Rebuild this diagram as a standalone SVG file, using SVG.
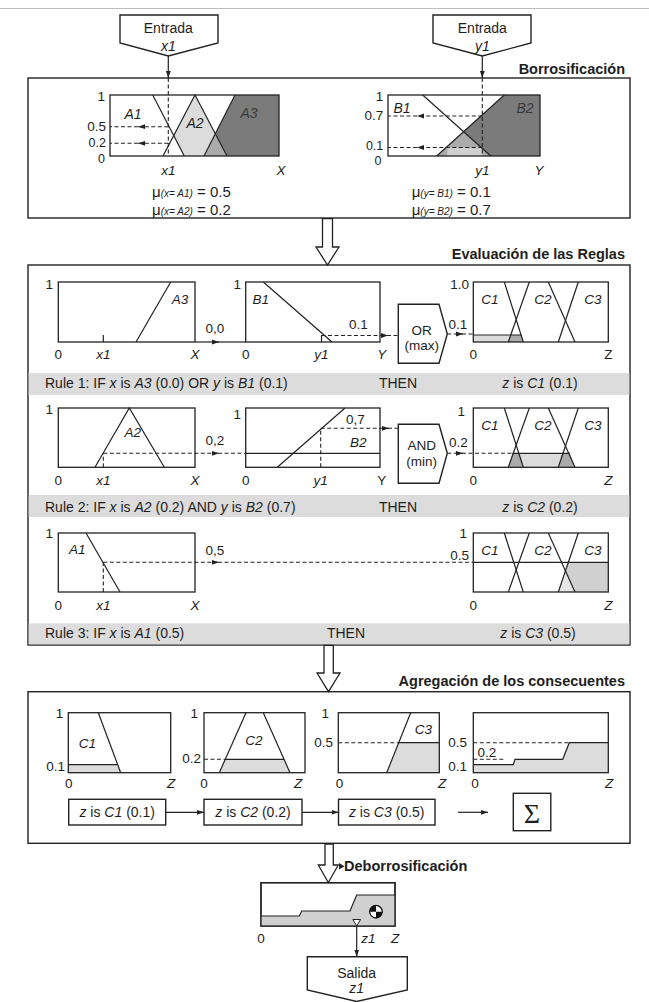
<svg xmlns="http://www.w3.org/2000/svg" width="649" height="1002" viewBox="0 0 649 1002">
<defs>
<marker id="ah" markerUnits="userSpaceOnUse" markerWidth="8" markerHeight="6" refX="7" refY="3" orient="auto"><path d="M0,0.6 L7,3 L0,5.4 z" fill="#222"/></marker>
<style>
text{font-family:"Liberation Sans",Arial,sans-serif;fill:#1e1e1e;font-size:13.5px}
.i{font-style:italic}
.m{text-anchor:middle}
.e{text-anchor:end}
.r{font-size:14px}
.s{font-size:12.5px}
.hd{font-weight:bold;font-size:14.5px;text-anchor:end}
.box{fill:#fff;stroke:#222;stroke-width:1.4}
.fr{fill:none;stroke:#222;stroke-width:1.3}
.ln{fill:none;stroke:#222;stroke-width:1.2}
.d{fill:none;stroke:#222;stroke-width:1.1;stroke-dasharray:4 2.5}
.ar{marker-end:url(#ah)}
.band{fill:#dcdcdc}
.lg{fill:#dcdcdc}.mg{fill:#ababab}.dg{fill:#7b7b7b}.sg{fill:#d0d0d0}.xg{fill:#e6e6e6}
.hol{fill:#fff;stroke:#222;stroke-width:1.3}
</style>
</defs>
<rect width="649" height="1002" fill="#fff"/>
<line x1="0" y1="8.5" x2="649" y2="8.5" stroke="#bdbdbd" stroke-width="1.2"/>

<g id="entrada-x1">
<polygon class="box" points="120,15 218,15 218,43 168.3,56 120,43"/>
<text class="m" x="168.3" y="33" style="font-size:14px">Entrada</text>
<text class="m i" x="168.3" y="51" style="font-size:14px">x1</text>
</g>
<g id="entrada-y1">
<polygon class="box" points="433,15 531,15 531,43 482.3,56 433,43"/>
<text class="m" x="482.3" y="33" style="font-size:14px">Entrada</text>
<text class="m i" x="482.3" y="51" style="font-size:14px">y1</text>
</g>

<g id="borrosificacion">
<text class="hd" x="625" y="74">Borrosificación</text>
<rect class="box" x="28" y="78" width="602" height="140"/>
<!-- left plot -->
<polygon class="lg" points="173.7,135.6 195,95 215.3,133.7 204,156 184.3,156"/>
<polygon class="mg" points="204,156 215.3,133.7 227,156"/>
<polygon class="dg" points="215.3,133.7 235,95 279,95 279,156 227,156"/>
<line class="ln" x1="152.7" y1="95" x2="184.3" y2="156"/>
<polyline class="ln" points="163,156 195,95 227,156"/>
<line class="ln" x1="204" y1="156" x2="235" y2="95"/>
<rect class="fr" x="110" y="95" width="169" height="61"/>
<text class="i m" x="133" y="119" style="font-size:14px">A1</text>
<text class="i m" x="195" y="128" style="font-size:14px">A2</text>
<text class="i m" x="249" y="118" style="font-size:14px;fill:#3a3a3a">A3</text>
<text class="e" x="105" y="101">1</text>
<text class="e" x="106" y="131">0.5</text>
<text class="e s" x="106" y="147">0.2</text>
<text class="e s" x="105" y="163">0</text>
<text class="i m" x="168.3" y="175">x1</text>
<text class="i m" x="281" y="175">X</text>
<line class="d" x1="168.3" y1="78" x2="168.3" y2="156"/>
<line class="d ar" x1="168.3" y1="126.7" x2="138" y2="126.7"/>
<line class="d" x1="138" y1="126.7" x2="110" y2="126.7"/>
<line class="d ar" x1="168.3" y1="143.3" x2="138" y2="143.3"/>
<line class="d" x1="138" y1="143.3" x2="110" y2="143.3"/>
<text x="152" y="196.5" style="font-size:15px">μ<tspan class="i" style="font-size:10px">(x= A1)</tspan> = 0.5</text>
<text x="152" y="215" style="font-size:15px">μ<tspan class="i" style="font-size:10px">(x= A2)</tspan> = 0.2</text>
<!-- right plot -->
<polygon class="dg" points="436.7,156 504.3,95 540,95 540,156"/>
<polygon class="mg" points="436.7,156 463.6,131.7 490.7,156"/>
<rect class="sg" x="447.3" y="147.5" width="35" height="8.5"/>
<line class="ln" x1="422.7" y1="95" x2="490.7" y2="156"/>
<line class="ln" x1="436.7" y1="156" x2="504.3" y2="95"/>
<rect class="fr" x="388" y="95" width="152" height="61"/>
<text class="i m" x="402" y="113" style="font-size:14px">B1</text>
<text class="i m" x="525" y="113" style="font-size:14px;fill:#3a3a3a">B2</text>
<text class="e" x="383.3" y="101">1</text>
<text class="e" x="383.3" y="120">0.7</text>
<text class="e s" x="383.3" y="149.5">0.1</text>
<text class="m s" x="378" y="164.5">0</text>
<text class="i m" x="482.3" y="175">y1</text>
<text class="i m" x="539" y="175">Y</text>
<line class="d" x1="482.3" y1="78" x2="482.3" y2="156"/>
<line class="d ar" x1="482.3" y1="116" x2="417" y2="116"/>
<line class="d" x1="417" y1="116" x2="388" y2="116"/>
<line class="d ar" x1="482.3" y1="147.5" x2="417" y2="147.5"/>
<line class="d" x1="417" y1="147.5" x2="388" y2="147.5"/>
<text x="411.7" y="196.5" style="font-size:15px">μ<tspan class="i" style="font-size:10px">(y= B1)</tspan> = 0.1</text>
<text x="411.7" y="215" style="font-size:15px">μ<tspan class="i" style="font-size:10px">(y= B2)</tspan> = 0.7</text>
</g>

<g id="evaluacion">
<text class="hd" x="625" y="259">Evaluación de las Reglas</text>
<rect class="box" x="28" y="265" width="602" height="380"/>
<!-- Rule 1 -->
<line class="ln" x1="136" y1="342" x2="170.7" y2="282"/>
<line class="ln" x1="103.3" y1="335" x2="103.3" y2="342"/>
<rect class="fr" x="58.3" y="282" width="136.7" height="60"/>
<text class="i m" x="180" y="304">A3</text>
<text class="e" x="53" y="289">1</text>
<text class="m" x="58.3" y="359">0</text>
<text class="i m" x="103.3" y="359">x1</text>
<text class="i m" x="195" y="359">X</text>
<text class="m" x="215" y="333">0,0</text>
<line class="ln" x1="263.3" y1="282" x2="332" y2="342"/>
<line class="ln" x1="321.5" y1="335" x2="321.5" y2="342"/>
<rect class="fr" x="245.7" y="282" width="134.3" height="60"/>
<text class="i m" x="260.8" y="304">B1</text>
<text class="e" x="241" y="289">1</text>
<text class="m" x="245.7" y="359">0</text>
<text class="i m" x="321.5" y="359">y1</text>
<text class="i m" x="381.7" y="359">Y</text>
<text class="m" x="358.3" y="328.5">0.1</text>
<g id="or-node">
<polygon class="box" points="398.3,304.3 439,304.3 447.3,334 439,363.3 398.3,363.3"/>
<text class="m" x="421.7" y="335">OR</text>
<text class="m" x="421.7" y="350">(max)</text>
</g>
<text class="m" x="458" y="329">0.1</text>
<rect class="lg" x="473.3" y="335" width="37" height="7"/>
<polygon class="mg" points="508.3,342 510.4,335 521.5,335 523.3,342"/>
<line class="ln" x1="473.3" y1="335" x2="521.5" y2="335"/>
<line class="ln" x1="504.3" y1="282" x2="523.3" y2="342"/>
<line class="ln" x1="508.3" y1="342" x2="529.3" y2="282"/>
<line class="ln" x1="548.3" y1="282" x2="575" y2="342"/>
<line class="ln" x1="558.3" y1="342" x2="578.3" y2="282"/>
<rect class="fr" x="473.3" y="282" width="135" height="60"/>
<text class="e" x="469" y="289">1.0</text>
<text class="i m" x="490" y="304">C1</text>
<text class="i m" x="543" y="304">C2</text>
<text class="i m" x="593" y="304">C3</text>
<text class="m" x="473.3" y="359">0</text>
<text class="m" x="608.3" y="359">Z</text>
<rect class="band" x="28.7" y="373" width="600.6" height="22"/>
<text class="r" x="45" y="388">Rule 1: IF <tspan class="i">x</tspan> is <tspan class="i">A3</tspan> (0.0) OR <tspan class="i">y</tspan> is <tspan class="i">B1</tspan> (0.1)</text>
<text class="r m" x="398" y="388">THEN</text>
<text class="r m" x="540" y="388"><tspan class="i">z</tspan> is <tspan class="i">C1</tspan> (0.1)</text>
<!-- Rule 2 -->
<polyline class="ln" points="95,467.3 129.3,408 164.3,467.3"/>
<rect class="fr" x="58.3" y="408" width="136.7" height="59.3"/>
<text class="i m" x="132.7" y="437">A2</text>
<text class="e" x="53" y="413.5">1</text>
<line class="d" x1="103.3" y1="467.3" x2="103.3" y2="453.3"/>
<text class="m" x="58.3" y="485">0</text>
<text class="i m" x="103.3" y="485">x1</text>
<text class="i m" x="195" y="485">X</text>
<text class="m" x="215" y="445">0,2</text>
<line class="ln" x1="277.3" y1="467.3" x2="345" y2="408"/>
<line class="ln" x1="245.7" y1="453.3" x2="380" y2="453.3"/>
<line class="d" x1="320.7" y1="467.3" x2="320.7" y2="428.3"/>
<rect class="fr" x="245.7" y="408" width="134.3" height="59.3"/>
<text class="i m" x="358.3" y="447">B2</text>
<text class="m" x="355.5" y="424">0,7</text>
<text class="e" x="241" y="418.5">1</text>
<text class="m" x="245.7" y="485">0</text>
<text class="i m" x="320.7" y="485">y1</text>
<text class="m" x="381.7" y="485">Y</text>
<g id="and-node">
<polygon class="box" points="398.3,424.3 439,424.3 447.3,453.3 439,483.3 398.3,483.3"/>
<text class="m" x="421.7" y="450">AND</text>
<text class="m" x="421.7" y="466">(min)</text>
</g>
<text class="m" x="458.3" y="447">0.2</text>
<polygon class="lg" points="508.3,467.3 512.5,453.3 569.7,453.3 575,467.3"/>
<polygon class="mg" points="508.3,467.3 512.5,453.3 519.6,453.3 523.3,467.3"/>
<polygon class="mg" points="558.3,467.3 562.3,453.3 569.7,453.3 575,467.3"/>
<line class="ln" x1="512.5" y1="453.3" x2="569.7" y2="453.3"/>
<line class="ln" x1="504.3" y1="408" x2="523.3" y2="467.3"/>
<line class="ln" x1="508.3" y1="467.3" x2="529.3" y2="408"/>
<line class="ln" x1="548.3" y1="408" x2="575" y2="467.3"/>
<line class="ln" x1="558.3" y1="467.3" x2="578.3" y2="408"/>
<rect class="fr" x="473.3" y="408" width="135" height="59.3"/>
<text class="e" x="465" y="415.7">1</text>
<text class="i m" x="490" y="430">C1</text>
<text class="i m" x="543" y="430">C2</text>
<text class="i m" x="593" y="430">C3</text>
<text class="m" x="473.3" y="485">0</text>
<text class="i m" x="608.3" y="485">Z</text>
<rect class="band" x="28.7" y="495" width="600.6" height="22"/>
<text class="r" x="45" y="512">Rule 2: IF <tspan class="i">x</tspan> is <tspan class="i">A2</tspan> (0.2) AND <tspan class="i">y</tspan> is <tspan class="i">B2</tspan> (0.7)</text>
<text class="r m" x="398" y="512">THEN</text>
<text class="r m" x="540" y="512"><tspan class="i">z</tspan> is <tspan class="i">C2</tspan> (0.2)</text>
<!-- Rule 3 -->
<line class="ln" x1="86" y1="533" x2="120" y2="592"/>
<line class="d" x1="103.3" y1="592" x2="103.3" y2="562.3"/>
<rect class="fr" x="58.3" y="533" width="136.7" height="59"/>
<text class="i m" x="77.3" y="554">A1</text>
<text class="e" x="53" y="538">1</text>
<text class="m" x="58.3" y="610">0</text>
<text class="i m" x="103.3" y="610">x1</text>
<text class="i m" x="195" y="610">X</text>
<text class="m" x="215" y="555">0,5</text>
<polygon class="xg" points="558.3,592 568.3,562.3 608.3,562.3 608.3,592"/>
<polygon class="sg" points="575,592 565.4,570.9 568.3,562.3 608.3,562.3 608.3,592"/>
<line class="ln" x1="473.3" y1="562.3" x2="608.3" y2="562.3"/>
<line class="ln" x1="504.3" y1="533" x2="523.3" y2="592"/>
<line class="ln" x1="508.3" y1="592" x2="529.3" y2="533"/>
<line class="ln" x1="548.3" y1="533" x2="575" y2="592"/>
<line class="ln" x1="558.3" y1="592" x2="578.3" y2="533"/>
<rect class="fr" x="473.3" y="533" width="135" height="59"/>
<text class="e" x="467" y="538">1</text>
<text class="e" x="469" y="560">0.5</text>
<text class="i m" x="490" y="555">C1</text>
<text class="i m" x="543" y="555">C2</text>
<text class="i m" x="593" y="555">C3</text>
<text class="m" x="473.3" y="610">0</text>
<text class="i m" x="608.3" y="610">Z</text>
<rect class="band" x="28.7" y="623.3" width="600.6" height="21"/>
<text class="r" x="45" y="638">Rule 3: IF <tspan class="i">x</tspan> is <tspan class="i">A1</tspan> (0.5)</text>
<text class="r m" x="346" y="638">THEN</text>
<text class="r m" x="538" y="638"><tspan class="i">z</tspan> is <tspan class="i">C3</tspan> (0.5)</text>
</g>

<g id="agregacion">
<text class="hd" x="625" y="686">Agregación de los consecuentes</text>
<rect class="box" x="28" y="691.7" width="602" height="151.6"/>
<!-- plot a -->
<polygon class="lg" points="68.3,764.7 117.7,764.7 120.7,772.7 68.3,772.7"/>
<line class="ln" x1="68.3" y1="764.7" x2="117.7" y2="764.7"/>
<line class="ln" x1="98.3" y1="712.7" x2="120.7" y2="772.7"/>
<rect class="fr" x="68.3" y="712.7" width="102.4" height="60"/>
<text class="i m" x="87.3" y="748">C1</text>
<text class="e" x="63.3" y="717.5">1</text>
<text class="e" x="65" y="771">0.1</text>
<text class="m" x="68.7" y="788">0</text>
<text class="i m" x="171" y="788">Z</text>
<!-- plot b -->
<polygon class="lg" points="219.3,772.7 225.3,759.3 284,759.3 290,772.7"/>
<line class="ln" x1="225.3" y1="759.3" x2="284" y2="759.3"/>
<polyline class="ln" points="219.3,772.7 246,712.7"/>
<polyline class="ln" points="263.3,712.7 290,772.7"/>
<line class="d" x1="204" y1="759.3" x2="225.3" y2="759.3"/>
<rect class="fr" x="204" y="712.7" width="101" height="60"/>
<text class="i m" x="254" y="745">C2</text>
<text class="e" x="198" y="717.5">1</text>
<text class="e" x="201" y="763">0.2</text>
<text class="m" x="204" y="788">0</text>
<text class="i m" x="298" y="788">Z</text>
<!-- plot c -->
<polygon class="lg" points="386.7,772.7 398.7,742.7 439.3,742.7 439.3,772.7"/>
<line class="ln" x1="398.7" y1="742.7" x2="439.3" y2="742.7"/>
<line class="ln" x1="386.7" y1="772.7" x2="410.7" y2="712.7"/>
<line class="d" x1="338.3" y1="742.7" x2="398.7" y2="742.7"/>
<rect class="fr" x="338.3" y="712.7" width="101" height="60"/>
<text class="i m" x="423.3" y="734">C3</text>
<text class="e" x="329" y="717.5">1</text>
<text class="e" x="333" y="747">0.5</text>
<text class="m" x="339.6" y="788">0</text>
<text class="i m" x="442" y="788">Z</text>
<!-- plot d -->
<polygon class="lg" points="473.3,764.7 513.3,764.7 515,759.3 562.7,759.3 569.3,742.7 608.3,742.7 608.3,772.7 473.3,772.7"/>
<polyline class="ln" points="473.3,764.7 513.3,764.7 515,759.3 562.7,759.3 569.3,742.7 608.3,742.7"/>
<line class="d" x1="473.3" y1="742.7" x2="569.3" y2="742.7"/>
<line class="d" x1="473.3" y1="759.3" x2="505" y2="759.3"/>
<rect class="fr" x="473.3" y="712.7" width="135" height="60"/>
<text class="m" x="487" y="757">0.2</text>
<text class="e" x="467" y="747">0.5</text>
<text class="e" x="467" y="771">0.1</text>
<text class="m" x="475" y="788">0</text>
<text class="i m" x="609" y="788">Z</text>
<g id="c1-result">
<rect class="box" x="68.7" y="799.3" width="97" height="25.7"/>
<text class="r m" x="117.2" y="816.5"><tspan class="i">z</tspan> is <tspan class="i">C1</tspan> (0.1)</text>
</g>
<g id="c2-result">
<rect class="box" x="204" y="799.3" width="98" height="25.7"/>
<text class="r m" x="253" y="816.5"><tspan class="i">z</tspan> is <tspan class="i">C2</tspan> (0.2)</text>
</g>
<g id="c3-result">
<rect class="box" x="338.5" y="799.3" width="96.5" height="25.7"/>
<text class="r m" x="386.7" y="816.5"><tspan class="i">z</tspan> is <tspan class="i">C3</tspan> (0.5)</text>
</g>
<g id="sum">
<rect class="box" x="513.3" y="793.3" width="37.5" height="37.4"/>
<text class="m" x="532" y="823" style="font-family:'Liberation Serif',serif;font-size:28px">Σ</text>
</g>
</g>

<g id="deborrosificacion">
<text x="344" y="871" style="font-weight:bold;font-size:14.5px">Deborrosificación</text>
<rect class="box" x="261" y="882.7" width="134" height="43.3"/>
<polygon class="sg" points="261,916 299.3,916 301.7,911 350,911 356.7,895 395,895 395,926 261,926"/>
<polyline class="ln" points="261,916 299.3,916 301.7,911 350,911 356.7,895 395,895"/>
<rect class="fr" x="261" y="882.7" width="134" height="43.3"/>
<circle cx="376" cy="911.7" r="6.3" fill="#fff" stroke="#111" stroke-width="1.3"/>
<path d="M376,911.7 L376,905.4 A6.3,6.3 0 0 0 369.7,911.7 Z M376,911.7 L376,918 A6.3,6.3 0 0 0 382.3,911.7 Z" fill="#111"/>
<polygon points="352.8,919.5 360.6,919.5 356.7,926" fill="#fff" stroke="#222" stroke-width="1"/>
<text class="m" x="261" y="943">0</text>
<text class="i m" x="368.3" y="943">z1</text>
<text class="i m" x="395" y="943">Z</text>
</g>

<g id="salida">
<polygon class="box" points="307.3,956.7 407.3,956.7 407.3,990 356.7,1001.5 307.3,990"/>
<text class="m" x="356.7" y="978" style="font-size:14px">Salida</text>
<text class="m i" x="356.7" y="993" style="font-size:14px">z1</text>
</g>

<g id="connectors">
<line class="ln ar" x1="168.3" y1="56" x2="168.3" y2="78"/>
<line class="ln ar" x1="482.3" y1="56" x2="482.3" y2="78"/>
<polygon class="hol" points="322.5,218.7 322.5,247 316,247 327.5,265 339,247 332.5,247 332.5,218.7"/>
<polygon class="hol" points="324,645.3 324,673 317,673 328.5,691.7 340,673 333.3,673 333.3,645.3"/>
<polygon class="hol" points="325,844 325,865 318.3,865 328.3,882.5 338.3,865 333.3,865 333.3,844"/>
<polygon points="339,863 344.5,866.3 339,869.5" fill="#222"/>
<!-- rule 1 flows -->
<line class="ln ar" x1="195" y1="342" x2="219" y2="342"/>
<line class="ln" x1="218" y1="342" x2="245.7" y2="342"/>
<line class="d ar" x1="321.5" y1="335.5" x2="388" y2="335.5"/>
<line class="d" x1="387" y1="335.5" x2="398.3" y2="335.5"/>
<line class="d ar" x1="447.3" y1="334" x2="463" y2="334"/>
<line class="d" x1="462" y1="334" x2="473.3" y2="334"/>
<!-- rule 2 flows -->
<line class="d ar" x1="103.3" y1="453.3" x2="219" y2="453.3"/>
<line class="d" x1="218" y1="453.3" x2="245.7" y2="453.3"/>
<line class="d ar" x1="320.7" y1="428.3" x2="389" y2="428.3"/>
<line class="d" x1="388" y1="428.3" x2="398.3" y2="428.3"/>
<line class="d ar" x1="447.3" y1="453.3" x2="463" y2="453.3"/>
<line class="d" x1="462" y1="453.3" x2="512.5" y2="453.3"/>
<!-- rule 3 flow -->
<line class="d ar" x1="103.3" y1="562.3" x2="219" y2="562.3"/>
<line class="d" x1="218" y1="562.3" x2="473.3" y2="562.3"/>
<!-- aggregation chain -->
<line class="ln ar" x1="165.7" y1="812.3" x2="204" y2="812.3"/>
<line class="ln ar" x1="302" y1="812.3" x2="338.5" y2="812.3"/>
<line class="ln ar" x1="458" y1="812.3" x2="488" y2="812.3"/>
<!-- defuzz to output -->
<line class="ln ar" x1="356.7" y1="926" x2="356.7" y2="956.7"/>
</g>
</svg>
